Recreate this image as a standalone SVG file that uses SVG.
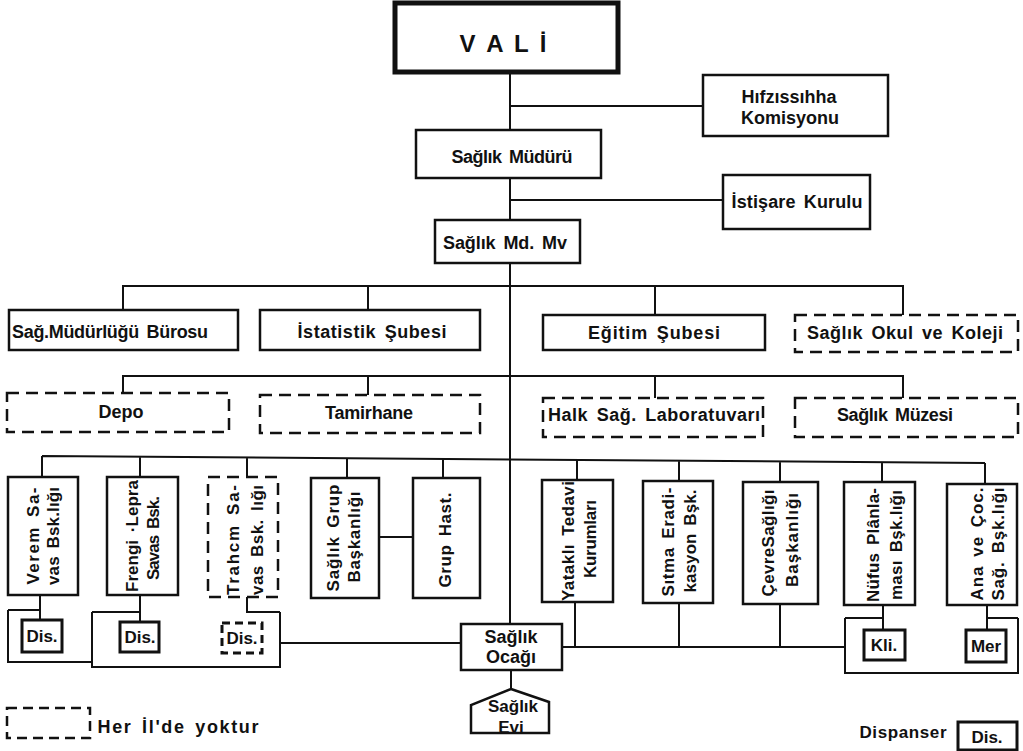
<svg xmlns="http://www.w3.org/2000/svg" width="1023" height="751" viewBox="0 0 1023 751">
<style>
.box{fill:#fff;stroke:#111;stroke-width:2.5}
.sm{fill:#fff;stroke:#111;stroke-width:3}
.dash{stroke-dasharray:12 7}
.ln{fill:none;stroke:#111;stroke-width:2}
.t{font-family:"Liberation Sans",Arial,sans-serif;font-weight:bold;font-size:18px;fill:#111;text-anchor:middle;word-spacing:3px}
.v{font-size:17px}
</style>
<rect width="1023" height="751" fill="#fff"/>
<g id="connectors">
<path class="ln" d="M510 72V624M510 106H703M510 200H723"/>
<path class="ln" d="M123 310V286H903V315M368 286V310M655 286V315"/>
<path class="ln" d="M123 393V376H903V398M368 376V395M655 376V398"/>
<path class="ln" d="M42 456L985 463M42 456V477M140 457V477M247 457V477M347 458V478M443 459V478M577 460V480M679 461V481M780 462V482M882 462V482M985 463V484"/>
<path class="ln" d="M379 537H413"/>
<path class="ln" d="M40 595V620M8 610H40M8 610V662H92M92 612V667H280V612M92 612H140M140 595V622M247 597V612H280M280 643H461"/>
<path class="ln" d="M562 647H845M575 602V647M679 603V648M780 604V648M845 618V673H1018V618M845 618H883M883 605V630M987 618H1018M987 605V630"/>
<path class="ln" d="M511 670V689"/>
</g>
<g id="vali"><rect x="395" y="3" width="223" height="69" fill="#fff" stroke="#111" stroke-width="5"/><text class="t" style="font-size:24px" x="503" y="52" textLength="87" lengthAdjust="spacing">V A L İ</text></g>
<g id="hifzissihha"><rect class="box" x="703" y="75" width="185" height="61"/><text class="t" x="789" y="103">Hıfzıssıhha</text><text class="t" x="790" y="124">Komisyonu</text></g>
<g id="saglik-muduru"><rect class="box" x="416" y="130" width="185" height="48"/><text class="t" x="512" y="163" textLength="121" lengthAdjust="spacing">Sağlık Müdürü</text></g>
<g id="istisare"><rect class="box" x="723" y="175" width="147" height="54"/><text class="t" x="797" y="208" textLength="131" lengthAdjust="spacing">İstişare Kurulu</text></g>
<g id="md-mv"><rect class="box" x="435" y="220" width="145" height="43"/><text class="t" x="505" y="249" textLength="124" lengthAdjust="spacing">Sağlık Md. Mv</text></g>
<g id="buro"><rect class="box" x="9" y="310" width="229" height="40"/><text class="t" x="110" y="338" textLength="196" lengthAdjust="spacing">Sağ.Müdürlüğü Bürosu</text></g>
<g id="istatistik"><rect class="box" x="260" y="310" width="220" height="40"/><text class="t" x="372" y="338" textLength="149" lengthAdjust="spacing">İstatistik Şubesi</text></g>
<g id="egitim"><rect class="box" x="543" y="315" width="222" height="35"/><text class="t" x="654" y="339" textLength="132" lengthAdjust="spacing">Eğitim Şubesi</text></g>
<g id="okul"><rect class="box dash" x="795" y="315" width="223" height="37"/><text class="t" x="905" y="339" textLength="196" lengthAdjust="spacing">Sağlık Okul ve Koleji</text></g>
<g id="depo"><rect class="box dash" x="7" y="393" width="222" height="39"/><text class="t" x="121" y="418">Depo</text></g>
<g id="tamirhane"><rect class="box dash" x="260" y="395" width="220" height="38"/><text class="t" x="369" y="419" textLength="88" lengthAdjust="spacing">Tamirhane</text></g>
<g id="halk-lab"><rect class="box dash" x="543" y="398" width="220" height="39"/><text class="t" x="654" y="421" textLength="212" lengthAdjust="spacing">Halk Sağ. Laboratuvarı</text></g>
<g id="muze"><rect class="box dash" x="795" y="398" width="223" height="39"/><text class="t" x="895" y="421" textLength="116" lengthAdjust="spacing">Sağlık Müzesi</text></g>
<g id="verem"><rect class="box" x="8" y="477" width="70" height="118"/><text class="t v" transform="translate(39,536) rotate(-90)" textLength="97" lengthAdjust="spacing">Verem Sa-</text><text class="t v" transform="translate(59,536) rotate(-90)" textLength="98" lengthAdjust="spacing">vas Bsk.lığı</text></g>
<g id="frengi"><rect class="box" x="107" y="477" width="71" height="118"/><text class="t v" transform="translate(138,536) rotate(-90)" textLength="112" lengthAdjust="spacing">Frengi ·Lepra</text><text class="t v" transform="translate(159,538) rotate(-90)" textLength="84" lengthAdjust="spacing">Savas Bsk.</text></g>
<g id="trahom"><rect class="box dash" x="208" y="477" width="70" height="120"/><text class="t v" transform="translate(239,540) rotate(-90)" textLength="110" lengthAdjust="spacing">Trahcm Sa-</text><text class="t v" transform="translate(263,540) rotate(-90)" textLength="110" lengthAdjust="spacing">vas Bsk. lığı</text></g>
<g id="grup-bsk"><rect class="box" x="311" y="478" width="68" height="120"/><text class="t v" transform="translate(339,538) rotate(-90)" textLength="107" lengthAdjust="spacing">Sağlık Grup</text><text class="t v" transform="translate(360,537) rotate(-90)" textLength="91" lengthAdjust="spacing">Başkanlığı</text></g>
<g id="grup-hast"><rect class="box" x="413" y="478" width="67" height="120"/><text class="t v" transform="translate(451,540) rotate(-90)" textLength="95" lengthAdjust="spacing">Grup Hast.</text></g>
<g id="yatakli"><rect class="box" x="542" y="480" width="71" height="122"/><text class="t v" transform="translate(574,541) rotate(-90)" textLength="120" lengthAdjust="spacing">Yataklı Tedavi</text><text class="t v" transform="translate(596,539) rotate(-90)" textLength="78" lengthAdjust="spacing">Kurumları</text></g>
<g id="sitma"><rect class="box" x="643" y="481" width="70" height="122"/><text class="t v" transform="translate(674,542) rotate(-90)" textLength="109" lengthAdjust="spacing">Sıtma Eradi-</text><text class="t v" transform="translate(696,541) rotate(-90)" textLength="103" lengthAdjust="spacing">kasyon Bşk.</text></g>
<g id="cevre"><rect class="box" x="743" y="482" width="75" height="122"/><text class="t v" transform="translate(774,543) rotate(-90)" textLength="107" lengthAdjust="spacing">ÇevreSağlığı</text><text class="t v" transform="translate(798,540) rotate(-90)" textLength="94" lengthAdjust="spacing">Başkanlığı</text></g>
<g id="nufus"><rect class="box" x="844" y="482" width="71" height="123"/><text class="t v" transform="translate(879,545) rotate(-90)" textLength="114" lengthAdjust="spacing">Nüfus Plânla-</text><text class="t v" transform="translate(902,545) rotate(-90)" textLength="110" lengthAdjust="spacing">ması Bşk.lığı</text></g>
<g id="ana"><rect class="box" x="947" y="484" width="70" height="121"/><text class="t v" transform="translate(983,544) rotate(-90)" textLength="113" lengthAdjust="spacing">Ana ve Çoc.</text><text class="t v" transform="translate(1004,544) rotate(-90)" textLength="113" lengthAdjust="spacing">Sağ. Bşk.lığı</text></g>
<g id="dis-verem"><rect class="sm" x="22" y="620" width="40" height="32"/><text class="t v" x="42" y="642">Dis.</text></g>
<g id="dis-frengi"><rect class="sm" x="120" y="622" width="39" height="30"/><text class="t v" x="140" y="643">Dis.</text></g>
<g id="dis-trahom"><rect class="sm dash" style="stroke-dasharray:8 5" x="222" y="623" width="40" height="30"/><text class="t v" x="242" y="644">Dis.</text></g>
<g id="kli"><rect class="sm" x="864" y="630" width="41" height="30"/><text class="t v" x="884" y="651">Kli.</text></g>
<g id="mer"><rect class="sm" x="966" y="630" width="40" height="32"/><text class="t v" x="986" y="652">Mer</text></g>
<g id="ocagi"><rect class="box" x="461" y="624" width="101" height="46"/><text class="t" x="511" y="643">Sağlık</text><text class="t" x="511" y="663">Ocağı</text></g>
<g id="evi"><path class="box" d="M511 689L549 702V733H471V705Z"/><text class="t v" x="513" y="712">Sağlık</text><text class="t v" x="511" y="733">Evi</text></g>
<g id="legend"><rect class="box dash" style="stroke-dasharray:10 6" x="7" y="708" width="83" height="30"/><text class="t" x="178" y="733" textLength="161" lengthAdjust="spacing">Her İl'de yoktur</text><text class="t v" x="903" y="738" textLength="87" lengthAdjust="spacing">Dispanser</text><rect class="sm" x="958" y="722" width="59" height="28"/><text class="t v" x="987" y="743">Dis.</text></g>
</svg>
